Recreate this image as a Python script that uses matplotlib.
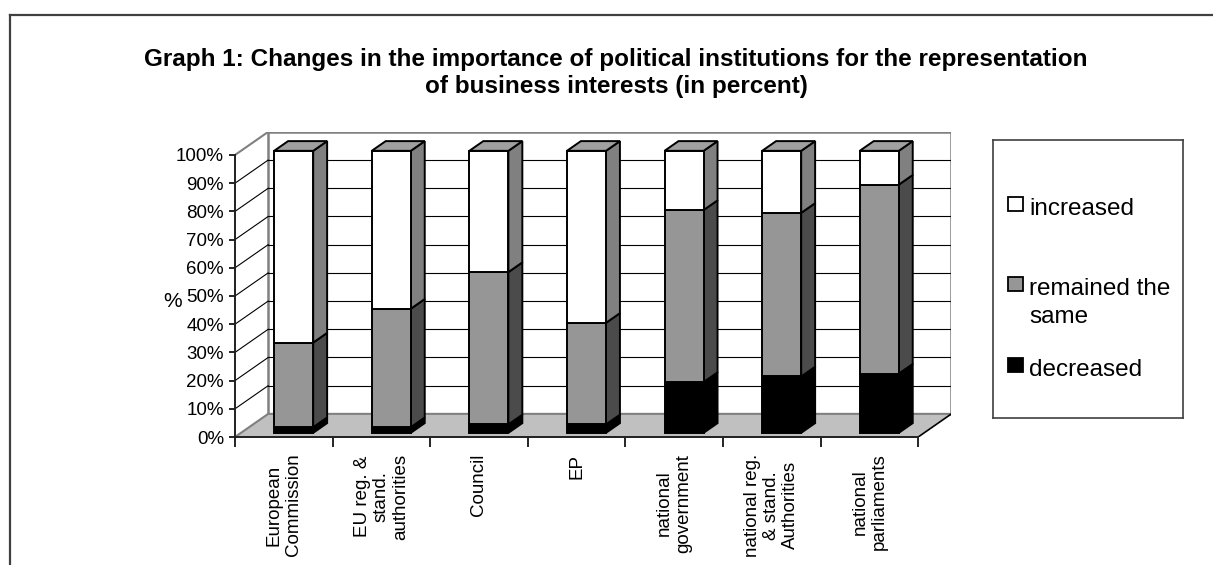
import matplotlib
matplotlib.use("Agg")
import matplotlib.pyplot as plt
from matplotlib.patches import Polygon, Rectangle
from matplotlib.lines import Line2D

# data (percent)
categories = ["European\nCommission", "EU reg. &\nstand.\nauthorities", "Council", "EP",
              "national\ngovernment", "national reg.\n& stand.\nAuthorities", "national\nparliaments"]
decreased = [2, 2, 3, 3, 18, 20, 21]
remained = [30, 42, 54, 36, 61, 58, 67]
increased = [68, 56, 43, 61, 21, 22, 12]
series_names = ["increased", "remained the\nsame", "decreased"]
yticks = list(range(0, 101, 10))

plt.rcParams["font.family"] = "Liberation Sans"

W, H = 1213, 565
fig = plt.figure(figsize=(W / 100, H / 100), dpi=100)

# oblique "3d" look: depth offset in category units / percent
DX, DY = 0.34, 8.2
n = len(categories)
ax = fig.add_axes([235 / W, (H - 437) / H, (n + DX) * 97.6 / W, (100 + DY) / 0.3546 / H])
ax.set_xlim(0, n + DX)
ax.set_ylim(0, 100 + DY)
ax.patch.set_visible(False)

wall_grey = "#808080"

# left wall
ax.add_patch(Polygon([(0, 0), (0, 100), (DX, 100 + DY), (DX, DY)], closed=True,
                     facecolor="white", edgecolor="none", zorder=0))
for v in yticks[1:-1]:
    ax.plot([0, DX], [v, v + DY], color="black", lw=0.8, zorder=1)
ax.plot([0, DX], [100, 100 + DY], color=wall_grey, lw=1.5, zorder=1)

# back wall with gridlines
ax.add_patch(Rectangle((DX, DY), n, 100, facecolor="white", edgecolor=wall_grey,
                       lw=1.8, zorder=0))
for v in yticks[1:-1]:
    ax.plot([DX, n + DX], [v + DY, v + DY], color="black", lw=0.8, zorder=1)

# floor
ax.add_patch(Polygon([(0, 0), (n, 0), (n + DX, DY), (DX, DY)], closed=True,
                     facecolor="#C0C0C0", edgecolor="none", zorder=1))
ax.plot([0, DX, n + DX], [0, DY, DY], color=wall_grey, lw=1.5, zorder=1)
ax.plot([n, n + DX], [0, DY], color="black", lw=1.2, zorder=1)

# stacked bars
fronts = ["#000000", "#969696", "#FFFFFF"]
sides = ["#000000", "#4B4B4B", "#808080"]
top_col = "#A0A0A0"
z0, z1 = 0.18, 0.60
a, b = z0 * DX, z0 * DY
c, d = z1 * DX, z1 * DY
bw = 0.40
for i in range(n):
    x0 = i + 0.54 - bw / 2
    x1 = x0 + bw
    base = 0
    for vals, fc, sc in zip([decreased, remained, increased], fronts, sides):
        y0, y1 = base, base + vals[i]
        ax.add_patch(Polygon([(x1 + a, y0 + b), (x1 + c, y0 + d), (x1 + c, y1 + d), (x1 + a, y1 + b)],
                             closed=True, facecolor=sc, edgecolor="black", lw=1.4, zorder=3))
        ax.add_patch(Polygon([(x0 + a, y0 + b), (x1 + a, y0 + b), (x1 + a, y1 + b), (x0 + a, y1 + b)],
                             closed=True, facecolor=fc, edgecolor="black", lw=1.4, zorder=3))
        base = y1
    ax.add_patch(Polygon([(x0 + a, base + b), (x1 + a, base + b), (x1 + c, base + d), (x0 + c, base + d)],
                         closed=True, facecolor=top_col, edgecolor="black", lw=1.4, zorder=3))

# axes
for s in ["top", "right"]:
    ax.spines[s].set_visible(False)
ax.spines["left"].set_bounds(0, 100)
ax.spines["bottom"].set_bounds(0, n)
for s in ["left", "bottom"]:
    ax.spines[s].set_color("#202020")
    ax.spines[s].set_linewidth(1.4)
    ax.spines[s].set_zorder(2)
ax.set_yticks(yticks)
ax.set_yticklabels([f"{v}%" for v in yticks], fontsize=13.5)
ax.tick_params(axis="y", length=4, width=1.2, pad=4)
ax.set_xticks(range(n + 1))
ax.set_xticklabels([])
ax.set_xticks([i + 0.5 for i in range(n)], minor=True)
ax.set_xticklabels(categories, minor=True, rotation=90, fontsize=13.5,
                   va="top", ha="center", multialignment="center", linespacing=1.15)
ax.tick_params(axis="x", which="major", length=7, width=1.2)
ax.tick_params(axis="x", which="minor", length=0, pad=12)
ax.set_ylabel("%", rotation=0, fontsize=15, ha="center", va="center")
ax.yaxis.set_label_coords(-0.087, 0.445)

# title
fig.text(616 / W, 1 - 73 / H,
         "Graph 1: Changes in the importance of political institutions for the representation\n"
         "of business interests (in percent)",
         ha="center", va="center", fontsize=17.5, fontweight="bold", linespacing=1.25)

# legend box
lg = fig.add_axes([993 / W, (H - 418) / H, 190 / W, 278 / H])
lg.set_xlim(0, 190)
lg.set_ylim(278, 0)
lg.set_xticks([])
lg.set_yticks([])
for s in lg.spines.values():
    s.set_color("#404040")
    s.set_linewidth(1.2)
entry_top = [57, 137, 218]
for name, fc, yy in zip(series_names, fronts[::-1], entry_top):
    lg.add_patch(Rectangle((15, yy), 15, 14, facecolor=fc, edgecolor="black", lw=1.3))
    lg.text(36, yy + 1, name, va="top", ha="left", fontsize=17.5, linespacing=1.35)

# outer frame
fig.add_artist(Line2D([10 / W, 1], [1 - 15 / H, 1 - 15 / H], color="#404040", lw=1.6))
fig.add_artist(Line2D([10 / W, 10 / W], [0, 1 - 15 / H], color="#404040", lw=1.6))

fig.savefig("out.png", dpi=100)
